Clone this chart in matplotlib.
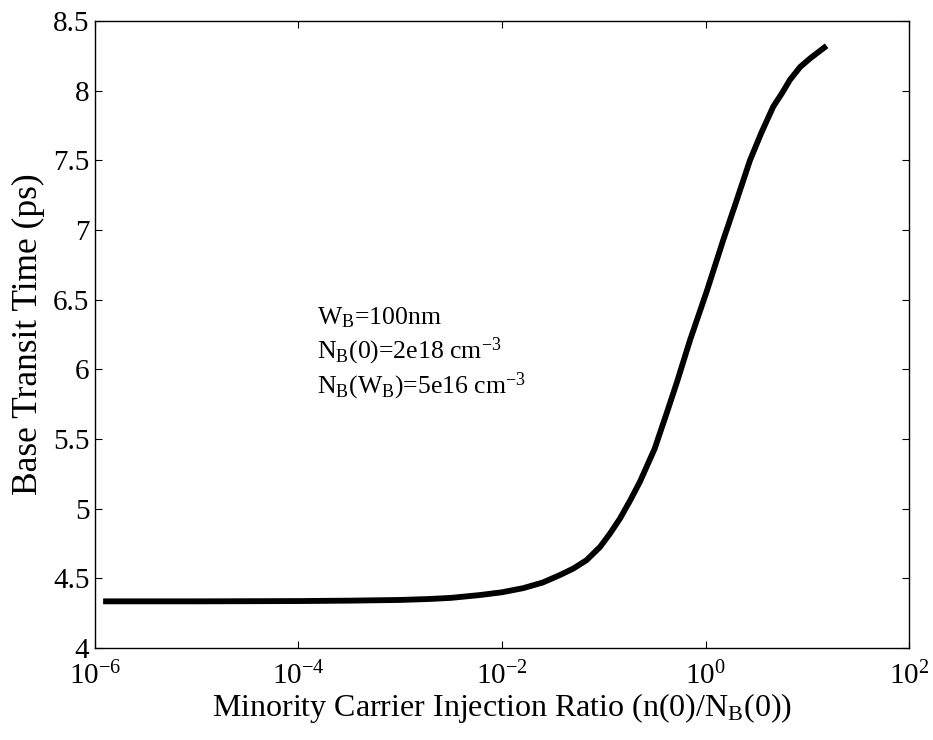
import numpy as np
import matplotlib
matplotlib.use('Agg')
import matplotlib.pyplot as plt
from matplotlib.ticker import FixedLocator, FuncFormatter, NullLocator

# injection ratio n(0)/NB(0) (as log10) and base transit time in ps
log_ratio = [-5.92, -5.0, -4.0, -3.5, -3.0, -2.71, -2.5, -2.22, -2.0, -1.79,
             -1.6, -1.43, -1.3, -1.17, -1.037, -0.94, -0.84, -0.74, -0.644,
             -0.5, -0.382, -0.28, -0.152, 0.012, 0.175, 0.3, 0.437, 0.55,
             0.666, 0.75, 0.83, 0.93, 1.03, 1.19]
transit_ps = [4.335, 4.335, 4.337, 4.34, 4.345, 4.352, 4.36, 4.38, 4.40, 4.43,
              4.47, 4.524, 4.57, 4.63, 4.725, 4.82, 4.93, 5.06, 5.194,
              5.43, 5.685, 5.91, 6.21, 6.56, 6.93, 7.2, 7.50, 7.70,
              7.886, 7.98, 8.078, 8.17, 8.233, 8.322]

x_ticks = [1e-6, 1e-4, 1e-2, 1e0, 1e2]
y_ticks = [4, 4.5, 5, 5.5, 6, 6.5, 7, 7.5, 8, 8.5]

plt.rcParams['font.family'] = ['Liberation Serif', 'DejaVu Serif']
plt.rcParams['mathtext.fontset'] = 'custom'
plt.rcParams['mathtext.rm'] = 'Liberation Serif'
plt.rcParams['mathtext.it'] = 'Liberation Serif:italic'
plt.rcParams['mathtext.bf'] = 'Liberation Serif:bold'

fig = plt.figure(figsize=(9.33, 7.4), dpi=100)
ax = fig.add_axes([0.1018, 0.1243, 0.8725, 0.8473])

ratio = 10 ** np.array(log_ratio)
ax.plot(ratio, transit_ps, color='black', lw=4.2, solid_capstyle='butt')

ax.set_xscale('log')
ax.set_xlim(1e-6, 1e2)
ax.set_ylim(4, 8.5)

ax.xaxis.set_major_locator(FixedLocator(x_ticks))
ax.xaxis.set_minor_locator(NullLocator())
ax.xaxis.set_major_formatter(FuncFormatter(
    lambda v, p: r'$\mathrm{10^{%d}}$' % round(np.log10(v))))
ax.yaxis.set_major_locator(FixedLocator(y_ticks))
ax.yaxis.set_major_formatter(FuncFormatter(lambda v, p: ('%g' % v)))

ax.tick_params(which='both', direction='in', top=True, right=True,
               length=5, width=0.8, labelsize=21, colors='black')
ax.tick_params(axis='x', pad=10)
ax.tick_params(axis='y', pad=4)
for s in ax.spines.values():
    s.set_linewidth(1.0)

ax.set_xlabel(r'Minority Carrier Injection Ratio (n(0)/N$_\mathrm{B}$(0))',
              fontsize=23)
ax.xaxis.label.set_verticalalignment('baseline')
ax.xaxis.set_label_coords(0.5, -0.109)
ax.set_ylabel('Base Transit Time (ps)', fontsize=25.5)
ax.yaxis.set_label_coords(-0.061, 0.5)

ax.text(1.52e-4, 6.32, r'W$_\mathrm{B}$=100nm', fontsize=18.5, va='baseline')
ax.text(1.52e-4, 6.08, r'N$_\mathrm{B}$(0)=2e18 cm$^\mathrm{-3}$', fontsize=18.5, va='baseline')
ax.text(1.52e-4, 5.83, r'N$_\mathrm{B}$(W$_\mathrm{B}$)=5e16 cm$^\mathrm{-3}$', fontsize=18.5, va='baseline')

fig.savefig('out.png', dpi=100)
